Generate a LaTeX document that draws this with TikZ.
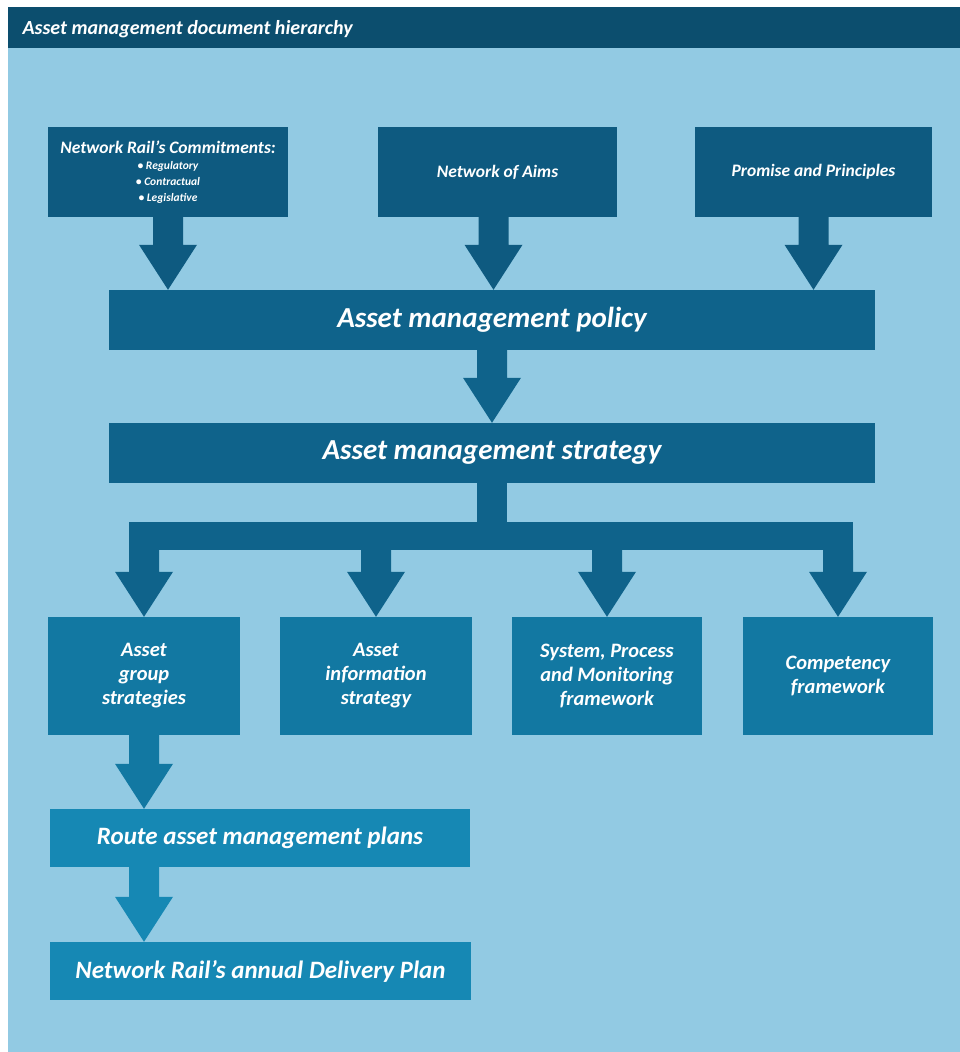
\documentclass[tikz,border=0pt]{standalone}
\usepackage{fontspec}
\setmainfont{Carlito}
\usetikzlibrary{calc}
\definecolor{bgblue}{RGB}{146,202,227}
\definecolor{hdrc}{RGB}{12,78,110}
\definecolor{topc}{RGB}{14,90,128}
\definecolor{midc}{RGB}{15,99,139}
\definecolor{lowc}{RGB}{18,120,162}
\definecolor{botc}{RGB}{22,136,180}
\tikzset{
  box/.style={rectangle, inner sep=2pt, text=white, align=center},
  topbox/.style={box, fill=topc, font=\fontsize{17.5}{20}\selectfont\bfseries\itshape},
  midbox/.style={box, fill=midc, minimum width=766pt, minimum height=60pt, font=\fontsize{29}{32}\selectfont\bfseries\itshape},
  lowbox/.style={box, fill=lowc, minimum height=118pt, font=\fontsize{20.5}{24}\selectfont\bfseries\itshape},
  botbox/.style={box, fill=botc, minimum height=58pt, font=\fontsize{25}{28}\selectfont\bfseries\itshape},
}
\newcommand\bigarrow[4]{%
  \fill[#1] let \p3=(#2), \p1=(#3), \p2=(#4) in
    (\x3-15pt,\y1) -- (\x3-15pt,\y2+45pt) -- (\x3-29pt,\y2+45pt) -- (\x3,\y2)
    -- (\x3+29pt,\y2+45pt) -- (\x3+15pt,\y2+45pt) -- (\x3+15pt,\y1) -- cycle;}
\begin{document}
\begin{tikzpicture}[x=1pt,y=-1pt]
\useasboundingbox (0,0) rectangle (960,1052);
\fill[white] (0,0) rectangle (960,1052);
\fill[bgblue] (8,48) rectangle (960,1052);
\node[rectangle, fill=hdrc, minimum width=952pt, minimum height=41pt, inner sep=0pt, anchor=north west] (hdr) at (8,7) {};
\node[text=white, anchor=west, font=\fontsize{20}{22}\selectfont\bfseries\itshape] (title) at (19,29) {Asset management document hierarchy};

% top row
\node[topbox, minimum width=240pt, minimum height=90pt, font=\fontsize{11.5}{16}\selectfont\bfseries\itshape] (c1) at (168,172)
  {{\fontsize{17.5}{19}\selectfont Network Rail's Commitments:}\\ • Regulatory\\ • Contractual\\ • Legislative};
\node[topbox, minimum width=239pt, minimum height=90pt] (c2) at (497.5,172) {Network of Aims};
\node[topbox, minimum width=237pt, minimum height=90pt] (c3) at (813.5,172) {Promise and Principles};

% bars
\node[midbox] (pol) at (492,320) {Asset management policy};
\node[midbox] (strat) at (492,453) {Asset management strategy};

% level 3
\node[lowbox, minimum width=192pt] (gs) at (144,676) {Asset\\group\\strategies};
\node[lowbox, minimum width=192pt] (is) at (376,676) {Asset\\information\\strategy};
\node[lowbox, minimum width=190pt] (sp) at (607,676) {System, Process\\and Monitoring\\framework};
\node[lowbox, minimum width=190pt] (cf) at (838,676) {Competency\\framework};

% bottom
\node[botbox, minimum width=420pt] (route) at (260,838) {Route asset management plans};
\node[botbox, minimum width=421pt] (dp) at (260.5,971) {Network Rail's annual Delivery Plan};

% arrows top -> policy
\bigarrow{topc}{c1.south}{c1.south}{pol.north}
\bigarrow{topc}{$(c2.south)+(-4,0)$}{c2.south}{pol.north}
\bigarrow{topc}{c3.south}{c3.south}{pol.north}
% policy -> strategy
\bigarrow{midc}{pol.south}{pol.south}{strat.north}
% branch
\coordinate (bar) at (492,550);
\fill[midc] let \p1=(strat.south), \p2=(bar) in (\x1-15pt,\y1) rectangle (\x1+15pt,\y2);
\fill[midc] let \p1=(gs.north), \p2=(cf.north), \p3=(bar) in (\x1-15pt,\y3) rectangle (\x2+15pt,\y3+28pt);
\bigarrow{midc}{gs.north}{bar}{gs.north}
\bigarrow{midc}{is.north}{bar}{is.north}
\bigarrow{midc}{sp.north}{bar}{sp.north}
\bigarrow{midc}{cf.north}{bar}{cf.north}
% lower chain
\bigarrow{lowc}{gs.south}{gs.south}{route.north}
\bigarrow{botc}{gs.south}{route.south}{dp.north}
\end{tikzpicture}
\end{document}
